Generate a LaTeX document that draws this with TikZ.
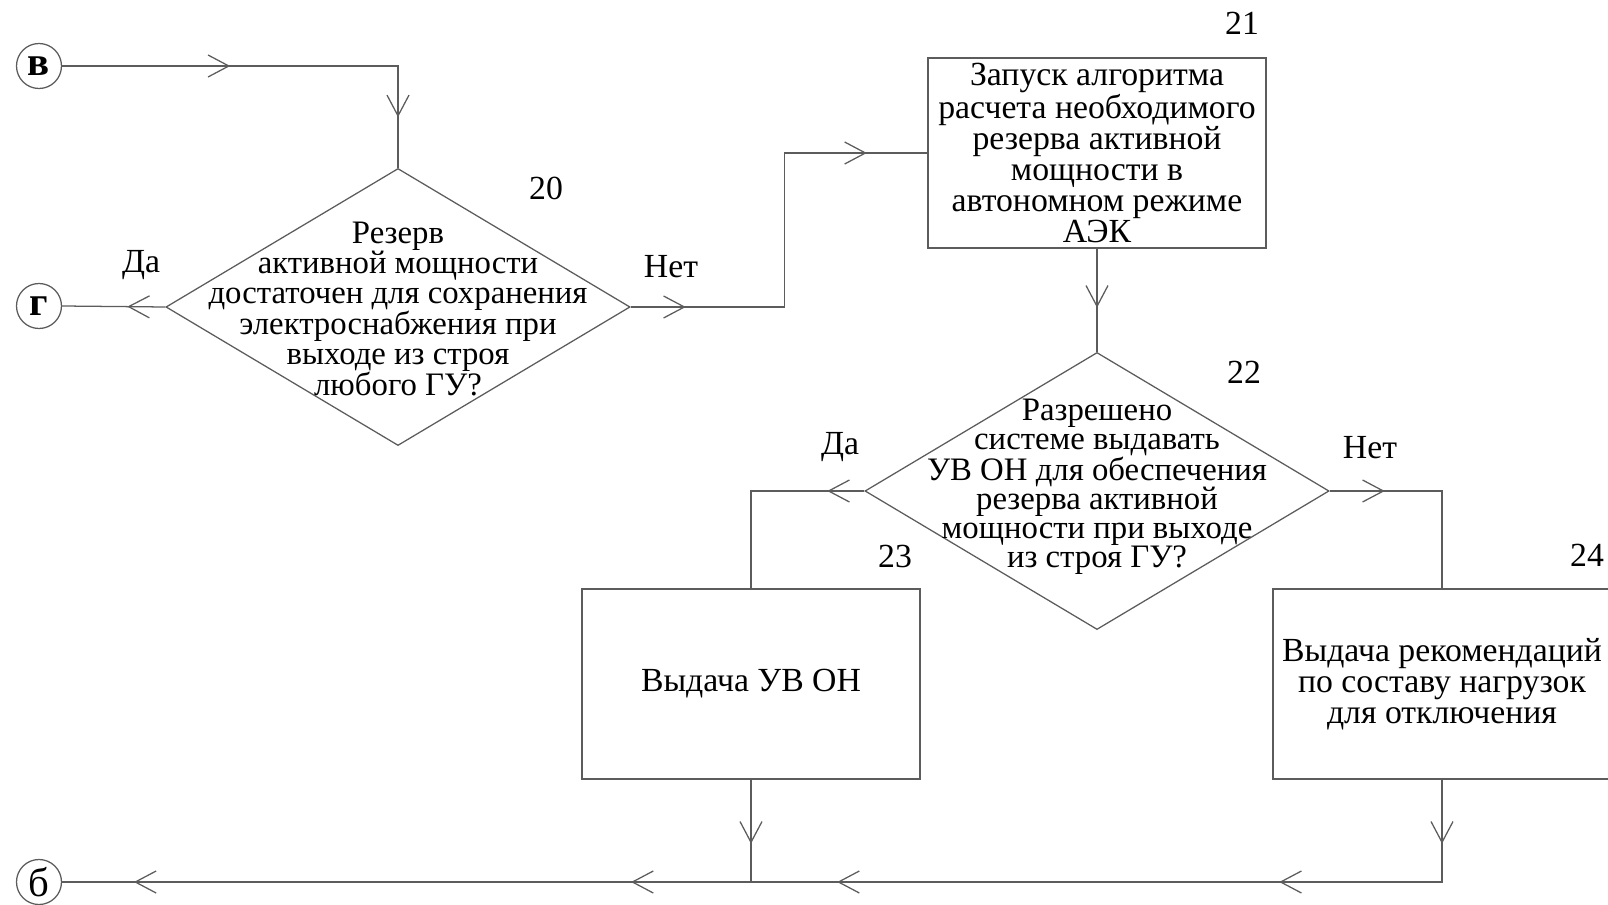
\documentclass[tikz,border=0pt]{standalone}
\usepackage{fontspec}
\setmainfont{Liberation Serif}
\usetikzlibrary{arrows.meta,positioning,shapes.geometric,decorations.markings}
\definecolor{Wire}{HTML}{5C5C5C}

\begin{document}
\begin{tikzpicture}[x=0.025cm,y=-0.025cm,font=\fontsize{24}{22}\selectfont,
  tipat/.style={postaction={decorate,decoration={markings,mark=at position #1 with {\arrow{Straight Barb[length=5.2mm,width=5.5mm]}}}}}]
  \tikzstyle{wire}=[draw=Wire,line width=0.9pt]
  \tikzstyle{blk}=[wire,rectangle,minimum width=8.45cm,minimum height=4.75cm,align=center,inner sep=0pt]
  \tikzstyle{dec}=[wire,diamond,minimum width=11.6cm,minimum height=6.925cm,inner sep=0pt]
  \tikzstyle{txt}=[align=center,inner sep=0pt,font=\fontsize{23.3}{20.7}\selectfont]
  \tikzstyle{conn}=[wire,circle,minimum size=1.125cm,inner sep=0pt,font=\fontsize{29}{29}\selectfont]
  \tikzstyle{num}=[inner sep=0pt]
  \useasboundingbox (0,0) rectangle (1608,905);

  % off-page connectors
  \node[conn] (v) at (39,66) {\textbf{в}};
  \node[conn] (g) at (39,306) {\textbf{г}};
  \node[conn] (b) at (39,882) {б};

  % blocks
  \node[dec] (d20) at (398,307) {};
  \node[txt,yshift=-0.05cm] (t20) at (d20) {Резерв\\активной мощности\\достаточен для сохранения\\электроснабжения при\\выходе из строя\\любого ГУ?};
  \node[blk] (b21) at (1097,153) {Запуск алгоритма\\расчета необходимого\\резерва активной\\мощности в\\автономном режиме\\АЭК};
  \node[dec] (d22) at (1097,491) {};
  \node[txt,yshift=0.11cm] (t22) at (d22) {Разрешено\\системе выдавать\\УВ ОН для обеспечения\\резерва активной\\мощности при выходе\\из строя ГУ?};
  \node[blk] (b23) at (751,684) {Выдача УВ ОН};
  \node[blk] (b24) at (1442,684) {Выдача рекомендаций\\по составу нагрузок\\для отключения};

  % numbers and answers
  \node[num] (n20) at (546,188) {20};
  \node[num] (n21) at (1242,23) {21};
  \node[num] (n22) at (1244,372) {22};
  \node[num] (n23) at (895,556) {23};
  \node[num] (n24) at (1587,555) {24};
  \node[num] (yes20) at (141,265) {Да};
  \node[num] (no20) at (671,267) {Нет};
  \node[num] (yes22) at (840,447) {Да};
  \node[num] (no22) at (1370,448) {Нет};

  % connectors
  \draw[wire,tipat=4.2cm,tipat=9.675cm] (v.east) -| (d20.north);
  \draw[wire,tipat=0.95cm] (d20.west) -- (g.east);
  \draw[wire,tipat=1.375cm,tipat=9.75cm] (d20.east) -- ++(154,0) |- (b21.west);
  \draw[wire,tipat=1.475cm] (b21.south) -- (d22.north);
  \draw[wire,tipat=0.925cm] (d22.west) -| (b23.north);
  \draw[wire,tipat=1.375cm] (d22.east) -| (b24.north);
  \draw[wire,tipat=1.6cm] (b23.south) -- (b23.south |- b.east);
  \draw[wire,tipat=1.6cm,tipat=6.625cm,tipat=17.675cm,tipat=22.825cm,tipat=35.25cm] (b24.south) |- (b.east);
\end{tikzpicture}
\end{document}
